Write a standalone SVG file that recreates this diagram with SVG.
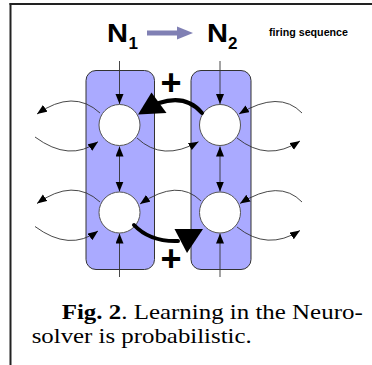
<svg xmlns="http://www.w3.org/2000/svg" width="372" height="365" viewBox="0 0 372 365">
  <style>
    .col { fill: #aaaaff; stroke: #333; stroke-width: 1; }
    .cell { fill: #ffffff; stroke: #555; stroke-width: 1; }
    .thin { fill: none; stroke: #333; stroke-width: 0.9; }
    .thick { fill: none; stroke: #000; stroke-width: 4; stroke-linecap: round; }
    .head { fill: #000; }
    .lbl { font-family: "Liberation Sans", Arial, sans-serif; font-weight: bold; fill: #000; }
    .cap { font-family: "Liberation Serif", "Times New Roman", serif; font-size: 21px; fill: #000; }
  </style>
  <defs>
    <marker id="ah" markerUnits="userSpaceOnUse" markerWidth="11" markerHeight="9" refX="10" refY="4" orient="auto-start-reverse">
      <path d="M0,0 L10,4 L0,8 z" fill="#000"/>
    </marker>
  </defs>

  <rect width="372" height="365" fill="#fff"/>

  <!-- frame -->
  <g id="frame" stroke="#222" stroke-width="2">
    <line x1="9.5" y1="4" x2="372" y2="4"/>
    <line x1="10.5" y1="3" x2="10.5" y2="365"/>
  </g>

  <!-- headings -->
  <g id="n1">
    <text class="lbl" x="107" y="42" font-size="26" textLength="21" lengthAdjust="spacingAndGlyphs">N</text>
    <text class="lbl" x="128.5" y="49" font-size="17">1</text>
  </g>
  <g id="n2">
    <text class="lbl" x="207" y="42" font-size="26" textLength="21" lengthAdjust="spacingAndGlyphs">N</text>
    <text class="lbl" x="228" y="49" font-size="17">2</text>
  </g>
  <g id="sequence-arrow">
    <line x1="147" y1="33" x2="180" y2="33" stroke="#8080b4" stroke-width="5"/>
    <polygon points="177,26.5 193,33 177,39.5" fill="#8080b4"/>
  </g>
  <text id="legend" class="lbl" x="269" y="36" font-size="10.5" textLength="79" lengthAdjust="spacingAndGlyphs">firing sequence</text>

  <!-- columns -->
  <g id="col-n1"><rect class="col" x="86" y="70.5" width="68.5" height="199" rx="10"/></g>
  <g id="col-n2"><rect class="col" x="191" y="70.5" width="60" height="199" rx="10"/></g>

  <!-- connectors -->
  <g id="connectors">
    <!-- row 1 -->
    <path class="thin" d="M100,113 Q73.5,88.5 37,114" marker-end="url(#ah)"/>
    <path class="thin" d="M35,137 Q69.5,162.5 98,141.7" marker-end="url(#ah)"/>
    <path class="thin" d="M137,138 Q162.5,162.2 198.5,141.7" marker-end="url(#ah)"/>
    <path class="thin" d="M237,138 Q267.5,162.5 300,141" marker-end="url(#ah)"/>
    <path class="thin" d="M302,113 Q279.5,89.5 239,114" marker-end="url(#ah)"/>
    <!-- row 2 -->
    <path class="thin" d="M100,202 Q73.5,177.5 37,203.5" marker-end="url(#ah)"/>
    <path class="thin" d="M35,226.5 Q69.5,252 98,231" marker-end="url(#ah)"/>
    <path class="thin" d="M201,201 Q178,178 140,204" marker-end="url(#ah)"/>
    <path class="thin" d="M237,227 Q267.5,251.5 300,230.5" marker-end="url(#ah)"/>
    <path class="thin" d="M302,202 Q279.5,178.5 240,203.5" marker-end="url(#ah)"/>
    <!-- inputs from above -->
    <line class="thin" x1="119.5" y1="61" x2="119.5" y2="104" marker-end="url(#ah)"/>
    <line class="thin" x1="220" y1="61" x2="220" y2="104" marker-end="url(#ah)"/>
    <!-- inputs from below -->
    <line class="thin" x1="119.5" y1="277" x2="119.5" y2="233.5" marker-end="url(#ah)"/>
    <line class="thin" x1="220" y1="277" x2="220" y2="233.5" marker-end="url(#ah)"/>
    <!-- links inside each column -->
    <line class="thin" x1="119.5" y1="146.5" x2="119.5" y2="191.5" marker-start="url(#ah)" marker-end="url(#ah)"/>
    <line class="thin" x1="220" y1="146.5" x2="220" y2="191.5" marker-start="url(#ah)" marker-end="url(#ah)"/>
  </g>

  <!-- cells -->
  <g id="n1-top"><circle class="cell" cx="119.5" cy="125" r="20.5"/></g>
  <g id="n2-top"><circle class="cell" cx="220" cy="125" r="20.5"/></g>
  <g id="n1-bottom"><circle class="cell" cx="119.5" cy="212.5" r="20.5"/></g>
  <g id="n2-bottom"><circle class="cell" cx="220" cy="212.5" r="20.5"/></g>

  <!-- reinforced links -->
  <g id="learning">
    <path class="thick" d="M202,113 Q186,94 159,103"/>
    <polygon class="head" points="138,114.5 151.5,92.5 166.5,113"/>
    <path class="thick" d="M134,225 Q150,242 178,241"/>
    <polygon class="head" points="174.5,229 203,229 187,253"/>
    <text class="lbl" x="171" y="95" font-size="36" text-anchor="middle">+</text>
    <text class="lbl" x="171" y="271" font-size="36" text-anchor="middle">+</text>
  </g>

  <!-- caption -->
  <g id="caption">
    <text class="cap" x="61.7" y="318.5" textLength="301" lengthAdjust="spacingAndGlyphs"><tspan font-weight="bold">Fig. 2</tspan>. Learning in the Neuro-</text>
    <text class="cap" x="31.7" y="343" textLength="220" lengthAdjust="spacingAndGlyphs">solver is probabilistic.</text>
  </g>
</svg>
